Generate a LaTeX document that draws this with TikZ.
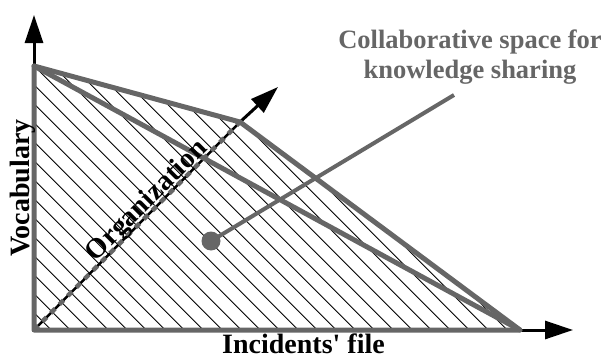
\documentclass[tikz,border=0pt]{standalone}
\usepackage{fontspec}
\setmainfont{Liberation Serif}
\usetikzlibrary{arrows.meta}
\definecolor{lg}{RGB}{102,102,102}
\begin{document}
\begin{tikzpicture}[x=1pt,y=-1pt,
  greyline/.style={draw=lg, line width=5pt, line join=round, line cap=round},
  axisarrow/.style={draw=black, line width=3pt, -{Triangle[length=28pt,width=18pt]}},
  lab/.style={font=\fontsize{28}{30}\selectfont\bfseries, inner sep=0pt},
  hatch/.style={draw=black, line width=0.9pt}]
\useasboundingbox (0,0) rectangle (603,356);
\coordinate (O) at (34,330);
\coordinate (T) at (34,66);
\coordinate (M) at (240,122);
\coordinate (R) at (520,330);
\coordinate (Ytip) at (34,15);
\coordinate (Xtip) at (573,330);
\coordinate (Dtip) at (278,87);
% hatching
\begin{scope}
  \clip (O) -- (T) -- (M) -- (R) -- cycle;
  \foreach \k in {-16,...,24}
    \draw[hatch] ({6.3+19*\k},0) -- ({406.3+19*\k},400);
\end{scope}
% diagonal axis
\draw[black, line width=2.5pt] (O) -- (M);
\draw[lg, line width=4.5pt, dash pattern=on 6pt off 6pt] (O) -- (M);
\draw[axisarrow] (M) -- (Dtip);
% other axes
\draw[axisarrow] (T) -- (Ytip);
\draw[axisarrow] (R) -- (Xtip);
% grey shapes
\draw[greyline] (O) -- (T) -- (M) -- (R) -- cycle;
\draw[greyline] (T) -- (R);
% labels
\node[lab, rotate=90, anchor=base] (voc) at (29,188) {Vocabulary};
\node[lab, anchor=base] (inc) at (303.5,353.5) {Incidents\textquotesingle{} file};
\node[lab, rotate=45, anchor=base] (org) at (152,206) {Organization};
\node[font=\fontsize{26.5}{30}\selectfont\bfseries, text=lg, align=center, anchor=north, inner sep=0pt] (collab) at (470,29.5) {Collaborative space for\\knowledge sharing};
% pointer
\node[circle, fill=lg, minimum size=19pt, inner sep=0pt] (dot) at (211,241) {};
\coordinate (ptop) at (454,95);
\draw[lg, line width=4pt] (dot.center) -- (ptop);
\end{tikzpicture}
\end{document}
